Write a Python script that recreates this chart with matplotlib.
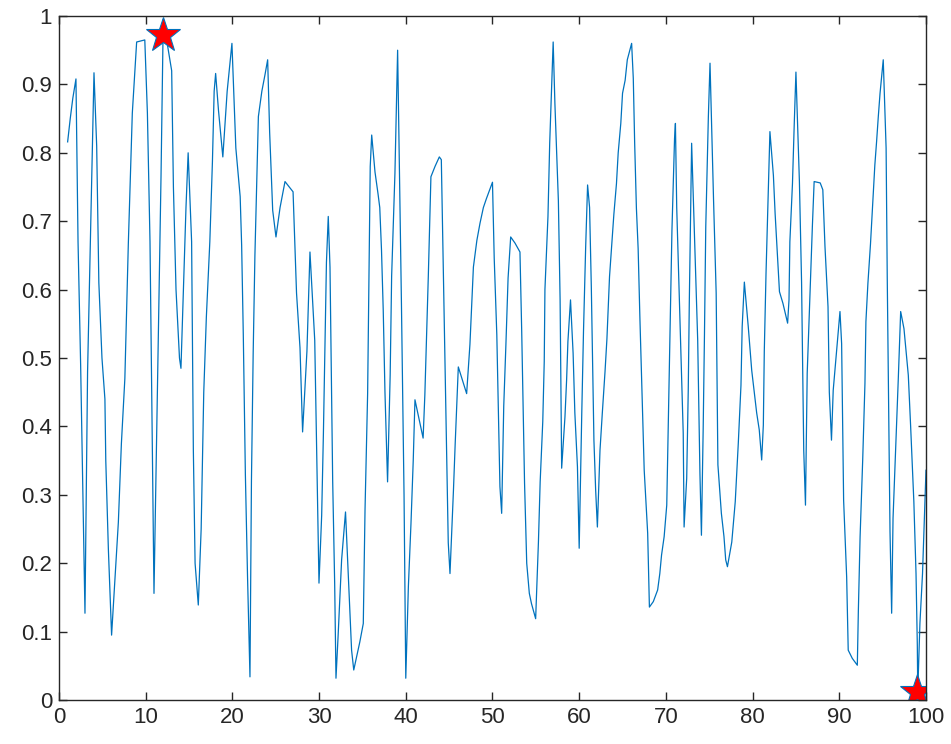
import matplotlib
matplotlib.use('Agg')
import numpy as np
from matplotlib import pyplot as plt

plt.rcParams['font.family'] = ['Liberation Sans', 'DejaVu Sans']

# curve vertices
x = [1.0, 1.3, 1.6, 1.96, 2.2, 2.5, 3.0, 3.3, 4.04, 4.35, 4.6, 4.96, 5.3, 5.4, 5.7, 6.07,
     6.45, 6.85, 7.2, 7.6, 8.0, 8.46, 8.96, 9.9, 10.2, 10.5, 10.96, 11.77, 12.03, 13.0,
     13.2, 13.5, 13.9, 14.07, 14.65, 14.9, 15.3, 15.5, 15.7, 16.07, 16.4, 16.7, 17.0,
     17.4, 17.7, 17.9, 18.07, 18.4, 18.9, 19.4, 19.95, 20.4, 20.9, 21.07, 21.26, 21.5,
     21.75, 22.03, 22.2, 22.4, 22.6, 23.0, 23.4, 23.76, 24.07, 24.3, 24.65, 25.03, 25.5,
     26.07, 27.0, 27.4, 27.8, 28.1, 28.6, 28.95, 29.5, 29.8, 29.99, 30.3, 30.5, 30.68,
     30.85, 31.06, 31.26, 31.57, 31.8, 31.95, 32.2, 32.6, 33.05, 33.37, 33.56, 33.75,
     34.0, 34.7, 35.1, 35.3, 35.6, 35.75, 35.9, 36.07, 36.45, 36.8, 37.0, 37.2, 37.4,
     37.6, 37.9, 38.2, 38.37, 38.75, 39.06, 39.3, 39.5, 39.8, 40.0, 40.3, 40.6, 40.86,
     41.06, 42.0, 42.2, 42.4, 42.6, 42.9, 43.37, 43.87, 44.1, 44.3, 44.5, 44.9, 45.1,
     45.5, 45.7, 46.06, 47.02, 47.4, 47.8, 48.2, 48.56, 48.95, 49.3, 50.0, 50.2, 50.5,
     50.86, 51.06, 51.3, 51.55, 51.8, 52.1, 52.6, 53.17, 53.37, 53.7, 53.95, 54.25,
     54.5, 54.98, 55.3, 55.5, 55.8, 55.97, 56.05, 56.4, 56.6, 57.0, 57.2, 57.6, 57.8,
     57.98, 58.36, 58.55, 58.7, 59.0, 59.3, 59.5, 59.8, 60.0, 60.3, 60.5, 60.75, 60.97,
     61.2, 61.4, 61.7, 61.9, 62.1, 62.4, 62.67, 62.98, 63.2, 63.5, 63.75, 64.0, 64.3,
     64.5, 64.8, 65.0, 65.3, 65.55, 66.05, 66.24, 66.4, 66.6, 66.8, 67.0, 67.2, 67.5,
     67.9, 68.1, 68.55, 69.05, 69.3, 69.5, 69.8, 70.1, 70.3, 70.5, 70.7, 71.0, 71.1,
     71.25, 71.55, 72.0, 72.1, 72.4, 72.58, 72.7, 72.85, 72.97, 73.35, 73.67, 73.93,
     74.1, 74.3, 74.45, 74.6, 74.9, 75.09, 75.5, 75.8, 76.0, 76.4, 76.7, 76.9, 77.1,
     77.6, 78.0, 78.35, 78.66, 78.8, 79.05, 79.5, 79.9, 80.2, 80.47, 80.77, 81.05, 81.24,
     81.35, 81.55, 81.8, 82.0, 82.4, 82.6, 82.85, 83.1, 83.5, 84.04, 84.2, 84.3, 84.6,
     84.8, 85.0, 85.4, 85.65, 85.9, 86.1, 86.3, 86.6, 86.9, 87.1, 87.8, 88.1, 88.35,
     88.7, 88.85, 89.1, 89.3, 89.6, 89.9, 90.08, 90.27, 90.5, 90.85, 91.03, 91.5, 92.08,
     92.2, 92.4, 92.7, 92.96, 93.07, 93.3, 93.6, 93.85, 94.1, 94.3, 94.5, 94.7, 95.07,
     95.4, 95.53, 95.85, 96.04, 96.2, 96.5, 96.8, 97.08, 97.46, 97.7, 97.96, 98.23, 98.6,
     98.85, 99.0, 99.05, 99.3, 99.6, 99.8, 100.0]
y = [0.816, 0.85, 0.88, 0.908, 0.67, 0.49, 0.127, 0.48, 0.917, 0.81, 0.61, 0.50, 0.44, 0.35, 0.22, 0.095,
     0.175, 0.26, 0.375, 0.47, 0.667, 0.858, 0.962, 0.965, 0.858, 0.67, 0.156, 0.765, 0.995, 0.92,
     0.75, 0.60, 0.50, 0.485, 0.72, 0.80, 0.67, 0.365, 0.20, 0.139, 0.25, 0.45, 0.56,
     0.67, 0.787, 0.89, 0.916, 0.862, 0.794, 0.89, 0.96, 0.807, 0.736, 0.665, 0.534, 0.33,
     0.18, 0.034, 0.32, 0.507, 0.65, 0.853, 0.89, 0.914, 0.936, 0.83, 0.716, 0.677, 0.72,
     0.758, 0.743, 0.595, 0.515, 0.392, 0.51, 0.655, 0.526, 0.305, 0.171, 0.27, 0.39, 0.516,
     0.64, 0.707, 0.633, 0.32, 0.17, 0.032, 0.095, 0.205, 0.275, 0.183, 0.127, 0.073,
     0.044, 0.085, 0.112, 0.278, 0.448, 0.614, 0.78, 0.826, 0.772, 0.74, 0.72, 0.658, 0.57,
     0.45, 0.319, 0.475, 0.62, 0.77, 0.95, 0.75, 0.58, 0.30, 0.032, 0.166, 0.258, 0.35,
     0.439, 0.383, 0.446, 0.534, 0.62, 0.765, 0.78, 0.794, 0.79, 0.65, 0.51, 0.23, 0.185,
     0.307, 0.375, 0.487, 0.448, 0.52, 0.633, 0.672, 0.697, 0.72, 0.733, 0.757, 0.646, 0.534,
     0.312, 0.273, 0.43, 0.52, 0.617, 0.677, 0.668, 0.655, 0.54, 0.317, 0.20, 0.156,
     0.141, 0.119, 0.231, 0.319, 0.407, 0.495, 0.60, 0.707, 0.814, 0.962, 0.872, 0.73, 0.585,
     0.339, 0.414, 0.468, 0.524, 0.585, 0.507, 0.42, 0.341, 0.222, 0.42, 0.54, 0.663, 0.753,
     0.72, 0.604, 0.38, 0.307, 0.253, 0.365, 0.42, 0.48, 0.528, 0.619, 0.665, 0.71, 0.755,
     0.80, 0.843, 0.887, 0.906, 0.936, 0.96, 0.909, 0.814, 0.719, 0.66, 0.56, 0.47, 0.336,
     0.244, 0.136, 0.144, 0.161, 0.185, 0.212, 0.239, 0.285, 0.42, 0.553, 0.687, 0.821, 0.843,
     0.72, 0.59, 0.39, 0.253, 0.324, 0.453, 0.58, 0.709, 0.814, 0.658, 0.526, 0.33,
     0.241, 0.395, 0.534, 0.692, 0.853, 0.931, 0.73, 0.595, 0.344, 0.273, 0.239, 0.205, 0.195,
     0.231, 0.29, 0.375, 0.46, 0.546, 0.611, 0.546, 0.482, 0.45, 0.42, 0.395, 0.351, 0.402,
     0.51, 0.624, 0.736, 0.831, 0.767, 0.711, 0.653, 0.597, 0.58, 0.551, 0.585, 0.67, 0.755,
     0.84, 0.918, 0.758, 0.611, 0.365, 0.285, 0.478, 0.585, 0.694, 0.758, 0.756, 0.746, 0.663,
     0.575, 0.45, 0.38, 0.453, 0.497, 0.54, 0.568, 0.521, 0.292, 0.18, 0.073, 0.061, 0.051,
     0.131, 0.239, 0.351, 0.463, 0.553, 0.609, 0.667, 0.724, 0.782, 0.816, 0.853, 0.887, 0.936,
     0.807, 0.619, 0.246, 0.127, 0.266, 0.365, 0.468, 0.568, 0.543, 0.51, 0.475, 0.40, 0.29,
     0.185, 0.08, 0.012, 0.112, 0.185, 0.26, 0.336]

# marked points (max / min)
star_x = [12.0, 99.0]
star_y = [0.972, 0.012]

fig = plt.figure(figsize=(9.51, 7.44), dpi=100)
ax = fig.add_axes([0.062, 0.059, 0.9117, 0.9195])

ax.plot(x, y, color='#0072BD', linewidth=0.9)
ax.plot(star_x, star_y, linestyle='none', marker='*', markersize=26,
        markerfacecolor='red', markeredgecolor='#0072BD', markeredgewidth=0.8)

ax.set_xlim(0, 100)
ax.set_ylim(0, 1)
ax.set_xticks(np.arange(0, 101, 10))
ax.set_yticks(np.arange(0, 1.01, 0.1))
ax.set_yticklabels(['0', '0.1', '0.2', '0.3', '0.4', '0.5', '0.6', '0.7', '0.8', '0.9', '1'])

for s in ax.spines.values():
    s.set_color('#262626')
    s.set_linewidth(1.0)
ax.tick_params(direction='in', length=6, width=1.0, colors='#262626',
               labelsize=16, top=True, right=True, pad=5)
for lab in ax.get_xticklabels() + ax.get_yticklabels():
    lab.set_color('#262626')

fig.savefig('out.png', dpi=100)
